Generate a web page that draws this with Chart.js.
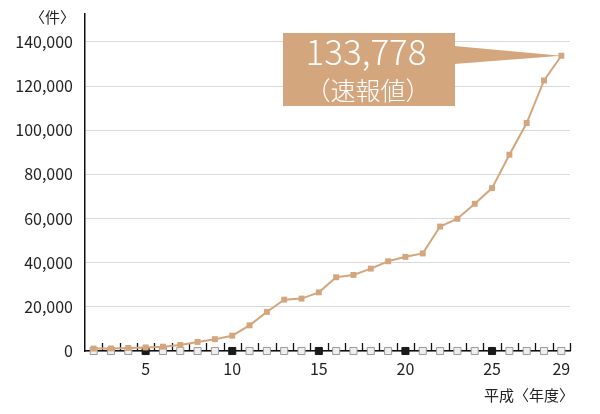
<!DOCTYPE html>
<html><head><meta charset="utf-8">
<script src="https://cdn.jsdelivr.net/npm/chart.js@4/dist/chart.umd.min.js"></script>
<style>html,body{margin:0;padding:0;background:#fff}canvas{display:block}</style>
</head><body>
<canvas id="c" width="600" height="414"></canvas>
<script>
const years = [2,3,4,5,6,7,8,9,10,11,12,13,14,15,16,17,18,19,20,21,22,23,24,25,26,27,28,29];
const cases = [1101,1171,1372,1611,1961,2722,4102,5352,6932,11631,17725,23274,23738,26569,33408,34472,37323,40639,42664,44211,56384,59919,66701,73802,88931,103286,122575,133778];
const xTickLabels = [5,10,15,20,25,29];
const yTickValues = [0,20000,40000,60000,80000,100000,120000,140000];
const yUnit = '〈件〉';
const xUnit = '平成〈年度〉';
const calloutValue = '133,778';
const calloutNote = '（速報値）';

const FONT = '"Noto Sans CJK JP","Noto Sans",sans-serif';
const TAN = '#d4a67d';

const overlay = {
  id: 'overlay',
  beforeDatasetsDraw(chart) {
    const ctx = chart.ctx, xs = chart.scales.x, area = chart.chartArea;
    ctx.save();
    ctx.strokeStyle = '#111'; ctx.lineWidth = 1.3;
    for (let v = 2.5; v <= 29.5; v += 1) {
      const px = Math.round(xs.getPixelForValue(v)) + 0.5;
      ctx.beginPath(); ctx.moveTo(px, area.bottom); ctx.lineTo(px, area.bottom - 8); ctx.stroke();
    }
    ctx.restore();
  },
  afterDraw(chart) {
    const ctx = chart.ctx;
    ctx.save();
    ctx.fillStyle = '#222';
    ctx.font = '15px ' + FONT;
    ctx.textAlign = 'right'; ctx.textBaseline = 'middle';
    ctx.fillText(yUnit, 75, 17);
    ctx.fillText(xUnit, 574, 395);
    const meta = chart.getDatasetMeta(0);
    const last = meta.data[meta.data.length - 1];
    const bx = 283, by = 33, bw = 172, bh = 73;
    ctx.fillStyle = TAN;
    ctx.fillRect(bx, by, bw, bh);
    ctx.beginPath();
    ctx.moveTo(bx + bw - 1, 46);
    ctx.lineTo(last.x, last.y);
    ctx.lineTo(bx + bw - 1, 64);
    ctx.closePath(); ctx.fill();
    ctx.fillStyle = '#fff';
    ctx.textAlign = 'center';
    ctx.font = '300 35px ' + FONT;
    ctx.fillText(calloutValue, bx + bw / 2 - 3, 52);
    ctx.font = '300 25px ' + FONT;
    ctx.fillText(calloutNote, bx + bw / 2 - 1, 90);
    ctx.restore();
  }
};

new Chart(document.getElementById('c'), {
  type: 'line',
  data: {
    datasets: [
      {
        data: years.map((y, i) => ({x: y, y: cases[i]})),
        borderColor: TAN, backgroundColor: TAN, borderWidth: 2,
        pointStyle: 'rect', pointRadius: 4.2, pointBorderWidth: 0,
        tension: 0, clip: false, order: 0
      },
      {
        data: years.map(y => ({x: y, y: 0})),
        showLine: false, pointStyle: 'rect', pointRadius: 5,
        backgroundColor: years.map(y => y % 5 === 0 ? '#1a1a1a' : '#eeeeee'),
        borderColor: years.map(y => y % 5 === 0 ? '#1a1a1a' : '#9a9a9a'),
        pointBorderWidth: 1, clip: false, order: 1
      }
    ]
  },
  options: {
    responsive: false, animation: false,
    layout: { padding: { left: 0, right: 30, top: 14, bottom: 0 } },
    plugins: { legend: { display: false }, tooltip: { enabled: false } },
    scales: {
      x: {
        type: 'linear', min: 1.5, max: 29.5,
        afterBuildTicks(s) { s.ticks = xTickLabels.map(v => ({value: v})); },
        afterFit(s) { s.height = 63; s.paddingLeft = 0; s.paddingRight = 0; },
        grid: { display: false, drawTicks: false },
        border: { display: true, color: '#111', width: 1.5 },
        ticks: { color: '#222', font: { family: FONT, size: 16 }, padding: 8, maxRotation: 0, autoSkip: false }
      },
      y: {
        min: 0, max: 152680,
        afterBuildTicks(s) { s.ticks = yTickValues.map(v => ({value: v})); },
        afterFit(s) { s.width = 85; s.paddingTop = 0; s.paddingBottom = 0; },
        grid: { color: '#d9d9d9', lineWidth: 1, drawTicks: false },
        border: { display: true, color: '#111', width: 1.5 },
        ticks: {
          color: '#222', font: { family: FONT, size: 16 }, padding: 12,
          callback: v => v.toLocaleString('en-US')
        }
      }
    }
  },
  plugins: [overlay]
});
</script>
</body></html>
